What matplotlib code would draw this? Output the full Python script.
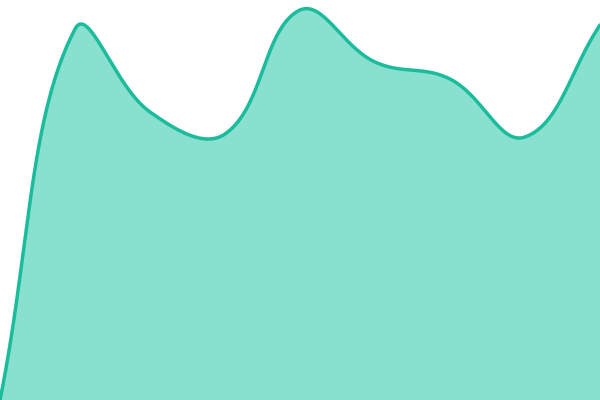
import matplotlib
matplotlib.use("Agg")
import matplotlib.pyplot as plt
import numpy as np

# nine evenly spaced samples
x = [0, 1, 2, 3, 4, 5, 6, 7, 8]
values = [0, 371, 288, 266, 390, 338, 321, 263, 375]

line_color = "#1abc9c"
fill_color = "#8ae0cf"
tension = 0.4


def spline_path(pts, t, box, n=60):
    # distance-weighted bezier smoothing in display space, control points kept inside the box
    pts = np.asarray(pts, float)
    k = len(pts)
    prev_c = np.zeros_like(pts)
    next_c = np.zeros_like(pts)
    for i in range(k):
        cur = pts[i]
        prv = pts[i - 1] if i > 0 else cur
        nxt = pts[i + 1] if i < k - 1 else cur
        d01 = np.hypot(*(cur - prv))
        d12 = np.hypot(*(nxt - cur))
        tot = d01 + d12
        s01 = d01 / tot if tot else 0
        s12 = d12 / tot if tot else 0
        prev_c[i] = cur - t * s01 * (nxt - prv)
        next_c[i] = cur + t * s12 * (nxt - prv)
    for c in (prev_c, next_c):
        c[:, 0] = np.clip(c[:, 0], box.x0, box.x1)
        c[:, 1] = np.clip(c[:, 1], box.y0, box.y1)
    u = np.linspace(0, 1, n)
    b = np.array([(1 - u) ** 3, 3 * (1 - u) ** 2 * u, 3 * (1 - u) * u ** 2, u ** 3])
    out = []
    for i in range(k - 1):
        seg = (np.outer(b[0], pts[i]) + np.outer(b[1], next_c[i])
               + np.outer(b[2], prev_c[i + 1]) + np.outer(b[3], pts[i + 1]))
        out.append(seg)
    return np.vstack(out)


fig = plt.figure(figsize=(6, 4), dpi=100)
ax = fig.add_axes([0, 0, 1, 1])
ax.set_xlim(0, 8)
ax.set_ylim(0, 400)
ax.axis("off")

disp = ax.transData.transform(np.column_stack([x, values]))
smooth = ax.transData.inverted().transform(spline_path(disp, tension, ax.bbox))
sx, sy = smooth[:, 0], smooth[:, 1]

ax.fill_between(sx, sy, 0, color=fill_color, lw=0)
ax.plot(sx, sy, color=line_color, lw=2.5, solid_capstyle="round")
fig.savefig("out.png", dpi=100)
plt.close(fig)
